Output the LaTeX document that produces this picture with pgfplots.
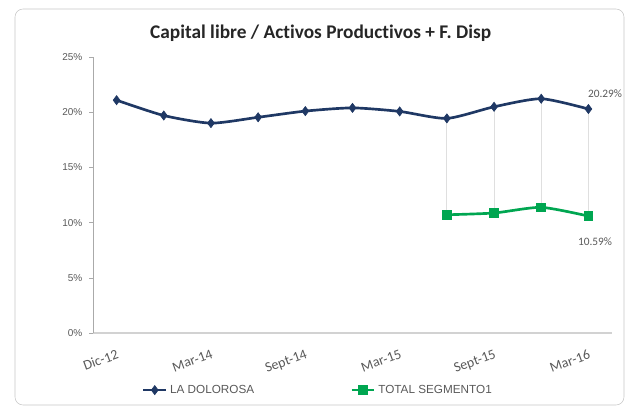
\documentclass[border=0pt]{standalone}
\usepackage{pgfplots}
\pgfplotsset{compat=1.18}
\usepackage{fontspec}
\setmainfont{Carlito}[Ligatures=CommonOff]
\newfontfamily\arial{Liberation Sans}

\definecolor{navy}{RGB}{31,56,100}
\definecolor{segverde}{RGB}{0,166,81}
\definecolor{ejegris}{RGB}{134,134,134}
\definecolor{txtgris}{RGB}{89,89,89}

\begin{document}
\begin{tikzpicture}
% bounding box = full image (1px = 0.75pt)
\path[use as bounding box] (0,0) rectangle (471.75pt,305.25pt);
\draw[gray!45, rounded corners=6pt] (11.25pt,1.5pt) rectangle (468pt,298.5pt);
\node[font=\bfseries\fontsize{14.5}{16}\selectfont, text=black!85] at (240.5pt,280.5pt)
    {Capital libre / Activos Productivos + F. Disp};

\begin{axis}[
    scale only axis,
    width=389.25pt, height=207pt,
    at={(69.75pt,55.5pt)}, anchor=south west,
    xmin=-0.5, xmax=10.5,
    ymin=0, ymax=25,
    axis x line*=bottom,
    axis y line*=left,
    x axis line style={draw=gray!35, line width=1.5pt},
    y axis line style={draw=ejegris!70},
    xtick={0,2,...,10},
    xticklabels={Dic-12,Mar-14,Sept-14,Mar-15,Sept-15,Mar-16},
    ytick={0,5,...,25},
    yticklabels={0\%,5\%,10\%,15\%,20\%,25\%},
    x tick style={draw=none},
    y tick style={draw=ejegris!70},
    tick align=outside,
    major tick length=3pt,
    y tick label style={font=\arial\fontsize{7.5}{9}\selectfont, text=txtgris, xshift=-1.5pt},
    x tick label style={font=\fontsize{10.5}{12}\selectfont, text=txtgris,
        rotate=20, anchor=north east, xshift=0pt, yshift=-5pt},
    clip=false,
    legend columns=2,
    legend style={draw=none, fill=none, at={(0.434,-0.207)}, anchor=center,
        font=\arial\fontsize{8.8}{10}\selectfont, text=txtgris,
        /tikz/every even column/.append style={column sep=70pt}},
    legend cell align=left,
]
% high-low lines
\addplot[forget plot, gray!25, line width=0.6pt] coordinates {(7,19.44) (7,10.71)};
\addplot[forget plot, gray!25, line width=0.6pt] coordinates {(8,20.49) (8,10.87)};
\addplot[forget plot, gray!25, line width=0.6pt] coordinates {(9,21.22) (9,11.38)};
\addplot[forget plot, gray!25, line width=0.6pt] coordinates {(10,20.29) (10,10.59)};

\addplot[navy, line width=2pt, smooth, tension=0.4, mark=diamond*, mark size=3.4pt,
    mark options={solid, fill=navy, line width=0.5pt}] coordinates {
    (0,21.09) (1,19.70) (2,19.01) (3,19.54) (4,20.10) (5,20.39)
    (6,20.07) (7,19.44) (8,20.49) (9,21.22) (10,20.29)
};
\addlegendentry{LA DOLOROSA}

\addplot[segverde, line width=2pt, smooth, tension=0.4, mark=square*, mark size=2.6pt,
    mark options={solid, fill=segverde}] coordinates {
    (7,10.71) (8,10.87) (9,11.38) (10,10.59)
};
\addlegendentry{TOTAL SEGMENTO1}

% data labels
\addplot[forget plot, draw=none, nodes near coords, point meta=explicit symbolic,
    every node near coord/.append style={font=\fontsize{8.5}{9}\selectfont, text=txtgris,
        anchor=center, xshift=12.5pt, yshift=11.8pt}]
    coordinates {(10,20.29) [20.29\%]};
\addplot[forget plot, draw=none, nodes near coords, point meta=explicit symbolic,
    every node near coord/.append style={font=\fontsize{8.5}{9}\selectfont, text=txtgris,
        anchor=center, xshift=5pt, yshift=-19pt}]
    coordinates {(10,10.59) [10.59\%]};
\end{axis}
\end{tikzpicture}
\end{document}
